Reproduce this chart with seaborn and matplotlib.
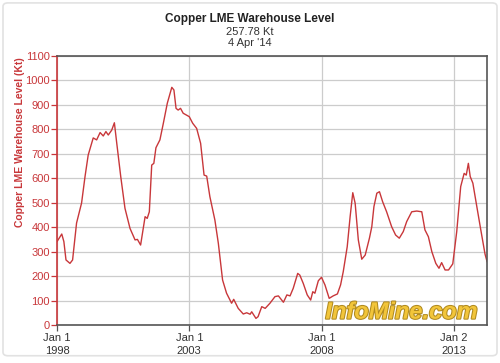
import matplotlib
matplotlib.use("Agg")
import matplotlib.pyplot as plt
import matplotlib.patheffects as pe
from matplotlib.patches import FancyBboxPatch
import seaborn as sns
import pandas as pd
import numpy as np

# decimal-year positions and stock levels (Kt)
years = [1998.0, 1998.18, 1998.26, 1998.34, 1998.49, 1998.59, 1998.74, 1998.93, 1999.06, 1999.18,
         1999.37, 1999.5, 1999.63, 1999.75, 1999.85, 1999.94, 2000.07, 2000.17, 2000.26, 2000.41,
         2000.57, 2000.76, 2000.95, 2001.04, 2001.16, 2001.33, 2001.41, 2001.49, 2001.58, 2001.66,
         2001.74, 2001.89, 2002.02, 2002.17, 2002.34, 2002.42, 2002.5, 2002.58, 2002.67, 2002.77,
         2003.0, 2003.13, 2003.28, 2003.43, 2003.56, 2003.66, 2003.78, 2003.97, 2004.1, 2004.26,
         2004.41, 2004.6, 2004.68, 2004.85, 2005.04, 2005.17, 2005.3, 2005.36, 2005.52, 2005.6,
         2005.74, 2005.87, 2006.05, 2006.24, 2006.37, 2006.56, 2006.69, 2006.81, 2006.93, 2007.1,
         2007.18, 2007.31, 2007.46, 2007.59, 2007.67, 2007.75, 2007.88, 2008.0, 2008.13, 2008.29,
         2008.44, 2008.6, 2008.72, 2008.82, 2008.97, 2009.08, 2009.18, 2009.27, 2009.39, 2009.52,
         2009.65, 2009.81, 2009.9, 2009.98, 2010.09, 2010.19, 2010.31, 2010.46, 2010.65, 2010.8,
         2010.94, 2011.09, 2011.22, 2011.41, 2011.6, 2011.79, 2011.91, 2012.04, 2012.17, 2012.32,
         2012.44, 2012.54, 2012.67, 2012.8, 2012.96, 2013.11, 2013.26, 2013.39, 2013.47, 2013.55,
         2013.62, 2013.72, 2013.87, 2014.02, 2014.18, 2014.26]
levels = [341, 372, 341, 266, 252, 266, 417, 499, 607, 695,
          765, 757, 787, 773, 791, 777, 797, 827, 743, 607,
          477, 395, 348, 350, 327, 443, 436, 463, 654, 661,
          725, 757, 825, 907, 972, 961, 886, 879, 886, 866,
          852, 825, 804, 743, 613, 609, 525, 429, 334, 184,
          130, 89, 105, 68, 45, 50, 44, 54, 27, 34,
          75, 68, 89, 116, 119, 93, 123, 119, 150, 211,
          204, 170, 123, 102, 136, 130, 181, 195, 164, 109,
          119, 127, 164, 218, 320, 443, 541, 498, 348, 269,
          286, 355, 402, 484, 539, 545, 504, 463, 402, 368,
          355, 382, 423, 463, 466, 463, 389, 361, 300, 252,
          232, 255, 225, 225, 250, 382, 566, 620, 613, 661,
          607, 580, 484, 389, 290, 258]

tick_dates = ["1998-01-01", "2003-01-01", "2008-01-01", "2013-01-02"]
tick_labels = ["Jan 1\n1998", "Jan 1\n2003", "Jan 1\n2008", "Jan 2\n2013"]
y_ticks = list(range(0, 1101, 100))

def to_date(y):
    yr = int(np.floor(y))
    start = pd.Timestamp(year=yr, month=1, day=1)
    end = pd.Timestamp(year=yr + 1, month=1, day=1)
    return start + (end - start) * (y - yr)

df = pd.DataFrame({"date": [to_date(y) for y in years], "level": levels})

sns.set_theme(style="white")
plt.rcParams['font.family'] = ['Liberation Sans', 'DejaVu Sans']

RED = "#c8373a"
fig = plt.figure(figsize=(5.0, 3.63), dpi=100)
# outer frame
fig.patches.append(FancyBboxPatch((0.006, 0.02), 0.988, 0.972, boxstyle="round,pad=0,rounding_size=0.01",
                                  transform=fig.transFigure, facecolor="white", edgecolor="#e2e2e2",
                                  linewidth=1.2, zorder=-10))
ax = fig.add_axes([0.114, 0.1047, 0.86, 0.741])
ax.set_facecolor("none")
sns.lineplot(data=df, x="date", y="level", ax=ax, color=RED, linewidth=1.0)

ax.set_ylim(0, 1100)
ax.set_xlim(pd.Timestamp("1998-01-01"), pd.Timestamp("2014-04-04"))
ax.set_yticks(y_ticks)
ax.set_yticklabels([str(v) for v in y_ticks], color=RED, fontsize=8)
ax.set_xticks(pd.to_datetime(tick_dates))
ax.set_xticklabels(tick_labels, color="#333333", fontsize=8, linespacing=1.3)
ax.grid(True, color="#cccccc", linewidth=0.9)
ax.set_axisbelow(True)
ax.tick_params(axis="y", length=4, width=0.9, color=RED, pad=1, left=True)
ax.tick_params(axis="x", length=4, width=0.9, color="#555555", pad=2, bottom=True)
for s in ["top", "right", "bottom"]:
    ax.spines[s].set_color("#555555")
    ax.spines[s].set_linewidth(1.2)
ax.spines["left"].set_color(RED)
ax.spines["left"].set_linewidth(1.2)
ax.set_xlabel("")
ax.set_ylabel("Copper LME Warehouse Level (Kt)", color=RED, fontsize=7.5, fontweight="bold")
ax.yaxis.set_label_coords(-0.075, 0.68)

fig.text(0.5, 0.947, "Copper LME Warehouse Level", ha="center", va="center", fontsize=8.5,
         fontweight="bold", color="#222222")
fig.text(0.5, 0.913, "257.78 Kt", ha="center", va="center", fontsize=8, color="#333333")
fig.text(0.5, 0.881, "4 Apr '14", ha="center", va="center", fontsize=8, color="#333333")

wm = ax.text(0.978, 0.005, "InfoMine.com", transform=ax.transAxes, ha="right", va="bottom",
             fontsize=17, fontweight="bold", style="italic", color="#f2c53a",
             family=["Liberation Sans", "DejaVu Sans"])
wm.set_path_effects([pe.withStroke(linewidth=1.5, foreground="#b08a20")])

fig.savefig("out.png", dpi=100)
